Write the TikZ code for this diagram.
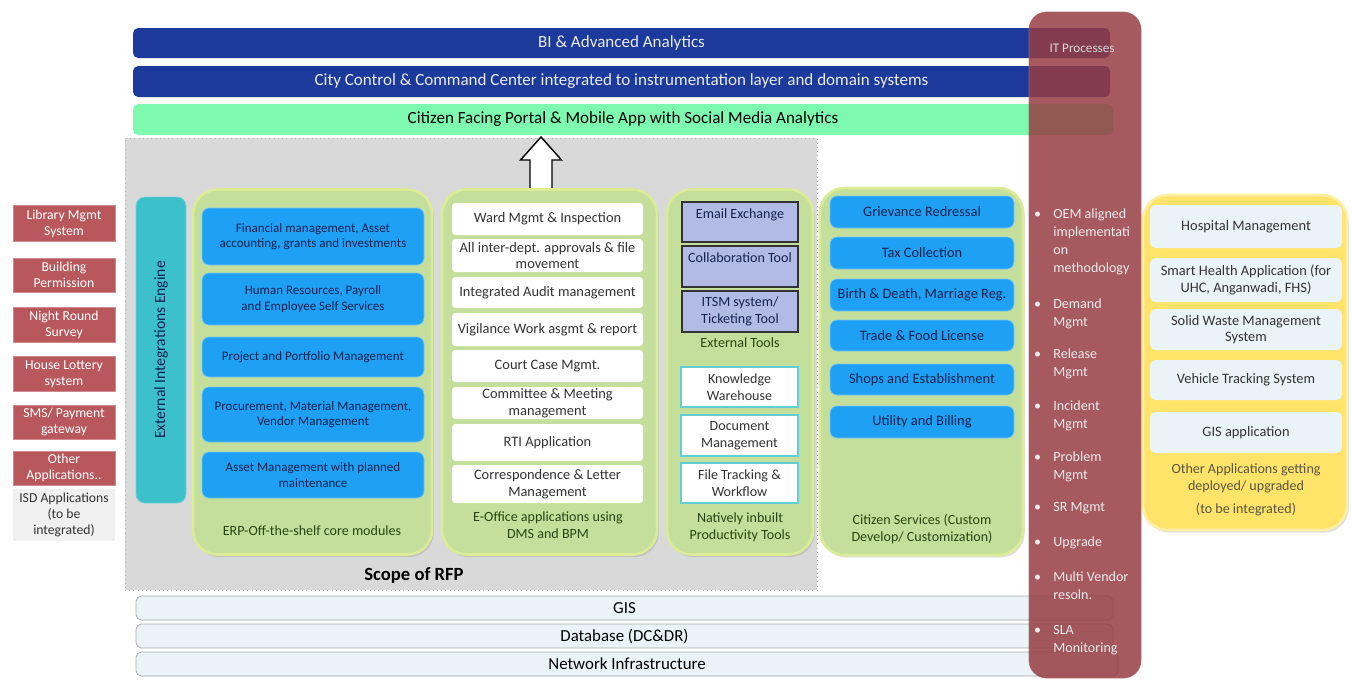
\documentclass[tikz,border=0pt]{standalone}
\usepackage{fontspec}
\setmainfont{Carlito}
\usetikzlibrary{shadows}

\definecolor{barblue}{RGB}{27,58,156}
\definecolor{portalmint}{RGB}{125,250,175}
\definecolor{itred}{RGB}{150,60,66}
\definecolor{scopegrey}{RGB}{217,217,217}
\definecolor{boxgreen}{RGB}{196,223,155}
\definecolor{greenedge}{RGB}{218,236,150}
\definecolor{modblue}{RGB}{30,160,245}
\definecolor{toolblue}{RGB}{178,186,230}
\definecolor{engteal}{RGB}{60,192,202}
\definecolor{appyellow}{RGB}{255,228,105}
\definecolor{paleblue}{RGB}{234,243,247}
\definecolor{isdred}{RGB}{185,88,92}
\definecolor{navytext}{RGB}{20,35,80}
\definecolor{olivetext}{RGB}{40,70,20}

\newcommand{\itbullet}{\llap{\textbullet\hspace{7pt}}}

\tikzset{
  sz/.style 2 args={minimum width=#1*0.02cm, minimum height=#2*0.02cm},
  bar/.style={fill=barblue, text=white!92!black, rounded corners=3pt, inner sep=0pt,
    font=\fontsize{9.7}{11}\selectfont},
  portalbar/.style={bar, fill=portalmint, text=black},
  layer/.style={fill=paleblue, draw=gray!70, rounded corners=3pt, inner sep=0pt,
    font=\fontsize{9.6}{11}\selectfont},
  group/.style={fill=boxgreen, draw=greenedge, line width=1.5pt, rounded corners=14pt,
    drop shadow={opacity=0.25, shadow xshift=1pt, shadow yshift=-1.5pt}},
  module/.style={fill=modblue, draw=modblue!60!white, rounded corners=4pt, inner sep=0pt,
    align=center, text=navytext, font=\fontsize{7.4}{9}\selectfont},
  citizenbox/.style={module, font=\fontsize{8.2}{9.5}\selectfont},
  office/.style={fill=white, rounded corners=2pt, inner sep=0pt, align=center,
    text=black!80, font=\fontsize{8.2}{9.5}\selectfont},
  exttool/.style={fill=toolblue, draw=black!80, line width=0.8pt, inner sep=0pt,
    align=center, text=navytext, font=\fontsize{8}{9.5}\selectfont},
  native/.style={fill=white, draw=engteal!80, line width=0.8pt, inner sep=0pt,
    align=center, text=black!80, font=\fontsize{8}{9.5}\selectfont},
  appbox/.style={fill=paleblue, rounded corners=3pt, inner sep=0pt, align=center,
    text=black!80, font=\fontsize{8.2}{9.5}\selectfont},
  isdbox/.style={fill=isdred, draw=isdred!70!white, inner sep=0pt, align=center,
    text=white, font=\fontsize{7.8}{9}\selectfont},
  caption/.style={align=center, text=olivetext, font=\fontsize{8}{9.5}\selectfont},
  itnote/.style={anchor=north west, inner sep=0pt, align=left, text=white!92!black,
    font=\fontsize{8}{10.4}\selectfont},
  hollow/.style={draw=black, fill=white, line width=0.8pt, line join=miter},
}

\begin{document}
\begin{tikzpicture}[x=0.02cm, y=-0.02cm]
  \useasboundingbox (0,0) rectangle (1352,681);

  % scope of RFP
  \node[fill=scopegrey, draw=gray!60, dotted, sz={692}{452}] (scope) at (471,364) {};
  \node[font=\bfseries\fontsize{10.6}{12}\selectfont] (rfp) at (414,575) {Scope of RFP};

  % top layers
  \node[bar, sz={977}{30}] (bi) at (621.5,43) {BI \& Advanced Analytics};
  \node[bar, sz={977}{31}] (ccc) at (621.5,81.5) {City Control \& Command Center integrated to instrumentation layer and domain systems};
  \node[portalbar, sz={980}{31}] (portal) at (623,119.5) {Citizen Facing Portal \& Mobile App with Social Media Analytics};

  % hollow arrow up to the portal
  \coordinate (up) at (541,190);
  \draw[hollow] (up) ++(-11,0) -- ++(0,-30) -- ++(-9.5,0) -- (541,137)
    -- (561.5,160) -- ++(-9.5,0) -- ++(0,30) -- cycle;

  % ISD applications
  \node[isdbox, sz={102}{36}] (lib) at (64,223.5) {Library Mgmt\\System};
  \node[isdbox, sz={102}{34}] (bldg) at (64,275) {Building\\Permission};
  \node[isdbox, sz={102}{35}] (night) at (64,324.5) {Night Round\\Survey};
  \node[isdbox, sz={102}{35}] (lottery) at (64,374) {House Lottery\\system};
  \node[isdbox, sz={102}{34}] (sms) at (64,422) {SMS/ Payment\\gateway};
  \node[isdbox, sz={102}{34}] (otherapp) at (64,468) {Other\\Applications..};
  \node[fill=gray!12, inner sep=0pt, align=center, text=black!80,
    font=\fontsize{7.8}{9}\selectfont, sz={102}{52}] (isd) at (64,515) {ISD Applications\\(to be\\integrated)};

  % integration engine
  \node[fill=engteal, draw=engteal!70!white, rounded corners=5pt, rotate=90, inner sep=0pt,
    text=navytext, font=\fontsize{8.9}{10}\selectfont, sz={306}{50}] (engine) at (161,350) {External Integrations Engine};

  % ERP
  \node[group, sz={239}{365}] (erp) at (312.5,372) {};
  \node[module, sz={222}{57}] (fin) at (313,236.5) {Financial management, Asset\\accounting, grants and investments};
  \node[module, sz={222}{52}] (hr) at (313,299) {Human Resources, Payroll\\and Employee Self Services};
  \node[module, sz={222}{40}] (ppm) at (313,357) {Project and Portfolio Management};
  \node[module, sz={222}{55}] (proc) at (313,414.5) {Procurement, Material Management,\\Vendor Management};
  \node[module, sz={222}{46}] (asset) at (313,475) {Asset Management with planned\\maintenance};
  \node[caption] (erpcap) at (312,531) {ERP-Off-the-shelf core modules};

  % E-Office
  \node[group, sz={215}{365}] (eoffice) at (549.5,372) {};
  \node[office, sz={191}{32}] (ward) at (547.5,219) {Ward Mgmt \& Inspection};
  \node[office, sz={191}{33}] (approval) at (547.5,255.5) {All inter-dept. approvals \& file\\movement};
  \node[office, sz={191}{31}] (audit) at (547.5,292.5) {Integrated Audit management};
  \node[office, sz={191}{33}] (vigilance) at (547.5,329.5) {Vigilance Work asgmt \& report};
  \node[office, sz={191}{32}] (court) at (547.5,366) {Court Case Mgmt.};
  \node[office, sz={191}{32}] (committee) at (547.5,403) {Committee \& Meeting\\management};
  \node[office, sz={191}{37}] (rti) at (547.5,442.5) {RTI Application};
  \node[office, sz={191}{38}] (corresp) at (547.5,484) {Correspondence \& Letter\\Management};
  \node[caption] (eofcap) at (548,525) {E-Office applications using\\DMS and BPM};

  % productivity tools
  \node[group, sz={146}{365}] (tools) at (740,372) {};
  \node[exttool, sz={116}{40}, text depth=9.5pt] (email) at (740,222) {Email Exchange};
  \node[exttool, sz={116}{41}, text depth=10pt] (collab) at (740,266.5) {Collaboration Tool};
  \node[exttool, sz={116}{41}] (itsm) at (740,311.5) {ITSM system/\\Ticketing Tool};
  \node[caption] (extcap) at (740,343) {External Tools};
  \node[native, sz={117}{40}] (knowledge) at (739.5,387) {Knowledge\\Warehouse};
  \node[native, sz={117}{41}] (docmgmt) at (739.5,435.5) {Document\\Management};
  \node[native, sz={117}{40}] (filetrack) at (739.5,483) {File Tracking \&\\Workflow};
  \node[caption] (toolcap) at (740,527) {Natively inbuilt\\Productivity Tools};

  % citizen services
  \node[group, sz={203}{367}] (citizen) at (921.5,371.5) {};
  \node[citizenbox, sz={184}{32}] (grievance) at (922,212) {Grievance Redressal};
  \node[citizenbox, sz={184}{32}] (tax) at (922,253) {Tax Collection};
  \node[citizenbox, sz={184}{32}] (birth) at (922,295) {Birth \& Death, Marriage Reg.};
  \node[citizenbox, sz={184}{31}] (trade) at (922,335.5) {Trade \& Food License};
  \node[citizenbox, sz={184}{31}] (shops) at (922,379.5) {Shops and Establishment};
  \node[citizenbox, sz={184}{32}] (utility) at (922,422) {Utility and Billing};
  \node[caption] (citcap) at (922,529) {Citizen Services (Custom\\Develop/ Customization)};

  % other applications
  \node[group, fill=appyellow, draw=appyellow!60!white, sz={204}{335}] (others) at (1245,362.5) {};
  \node[appbox, sz={192}{43}] (hospital) at (1246,226.5) {Hospital Management};
  \node[appbox, sz={192}{44}] (health) at (1246,280) {Smart Health Application (for\\UHC, Anganwadi, FHS)};
  \node[appbox, sz={192}{41}] (waste) at (1246,329.5) {Solid Waste Management\\System};
  \node[appbox, sz={192}{40}] (vehicle) at (1246,380) {Vehicle Tracking System};
  \node[appbox, sz={192}{41}] (gisapp) at (1246,432.5) {GIS application};
  \node[caption, text=black!75!yellow] (othcap) at (1246,478) {Other Applications getting\\deployed/ upgraded};
  \node[caption, text=black!75!yellow] (othnote) at (1246,510) {(to be integrated)};

  % base layers
  \node[layer, sz={977}{24}] (gis) at (624.5,608) {GIS};
  \node[layer, sz={977}{24}] (db) at (624.5,636) {Database (DC\&DR)};
  \node[layer, sz={982}{24}] (net) at (627,664) {Network Infrastructure};

  % IT processes
  \node[fill=itred, draw=itred!80!white, opacity=0.85, rounded corners=10pt, sz={112}{666}] (itproc) at (1085,345) {};
  \node[text=white!85!black, font=\fontsize{7.5}{9}\selectfont] (itlbl) at (1082,48) {IT Processes};
  \node[itnote] (oem) at (1053,208) {\itbullet OEM aligned\\implementati\\on\\methodology};
  \node[itnote] (demand) at (1053,298) {\itbullet Demand\\Mgmt};
  \node[itnote] (release) at (1053,348) {\itbullet Release\\Mgmt};
  \node[itnote] (incident) at (1053,400) {\itbullet Incident\\Mgmt};
  \node[itnote] (problem) at (1053,451) {\itbullet Problem\\Mgmt};
  \node[itnote] (srmgmt) at (1053,502) {\itbullet SR Mgmt};
  \node[itnote] (upgrade) at (1053,536) {\itbullet Upgrade};
  \node[itnote] (vendor) at (1053,571) {\itbullet Multi Vendor\\resoln.};
  \node[itnote] (sla) at (1053,625) {\itbullet SLA\\Monitoring};
\end{tikzpicture}
\end{document}
